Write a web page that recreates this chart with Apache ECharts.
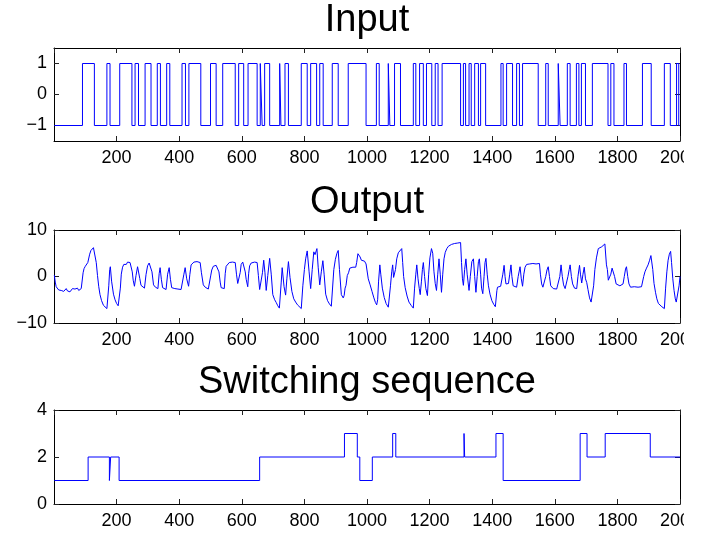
<!DOCTYPE html>
<html>
<head>
<meta charset="utf-8">
<script src="https://cdn.jsdelivr.net/npm/echarts@6/dist/echarts.min.js"></script>
<style>
  html, body { margin: 0; padding: 0; background: #fff; }
  #chart { width: 684px; height: 533px; }
</style>
</head>
<body>
<div id="chart"></div>
<script>
// Sample indices where the binary input flips sign (starts at -1)
const inputStart = -1;
const inputSwitchTimes = [
  91, 129, 169, 179, 210, 249, 259, 270, 291, 310, 330, 340, 360, 370, 409, 420,
  431, 469, 500, 518, 539, 579, 590, 606, 620, 649, 659, 665, 673, 689, 721, 725,
  738, 749, 790, 809, 820, 839, 849, 860, 889, 908, 940, 997, 1030, 1039, 1068, 1073,
  1088, 1107, 1148, 1156, 1168, 1180, 1190, 1207, 1218, 1227, 1240, 1299, 1308, 1315,
  1326, 1333, 1344, 1356, 1363, 1379, 1428, 1435, 1446, 1465, 1478, 1487, 1497, 1547,
  1571, 1579, 1611, 1617, 1640, 1649, 1669, 1677, 1685, 1698, 1720, 1770, 1779, 1789,
  1821, 1829, 1880, 1908, 1950, 1969, 1989, 1996
];

// Measured output samples [k, y]
const outputSamples = [
  [1,0.3],[4,-1.2],[7,-2.2],[11,-2.6],[15,-2.9],[19,-2.5],[23,-3.0],[27,-2.7],[31,-3.2],[35,-2.8],
  [39,-2.6],[43,-3.1],[47,-2.7],[51,-3.3],[55,-2.9],[59,-2.6],[63,-3.0],[67,-2.7],[71,-2.9],[75,-2.5],
  [79,-3.0],[83,-2.8],[87,-2.6],[90,-2.9],
  [93,0.8],[96,1.7],[100,2.2],[104,2.6],[108,3.0],[112,3.3],[114,4.8],[118,5.6],[122,6.0],[126,6.2],
  [129,6.6],[131,6.4],
  [135,3.0],[139,0.2],[143,-2.2],[147,-3.9],[152,-5.2],[158,-6.2],[163,-6.6],[169,-6.9],[172,-6.5],
  [175,-2.0],[178,1.5],[180,2.1],[184,-1.0],[190,-3.8],[195,-5.0],[200,-5.8],[205,-6.3],[209,-6.5],
  [212,-2.5],[215,0.5],[219,2.0],[223,2.6],[227,2.9],[231,2.6],[235,3.1],[239,2.7],[243,3.0],[247,2.7],
  [250,1.0],[253,-0.8],[257,-2.1],
  [262,0.2],[267,2.1],[270,2.3],[274,-0.4],[278,-1.9],[283,-2.3],[289,-2.5],
  [294,0.4],[299,2.3],[304,2.9],[309,3.1],[313,1.0],[318,-1.8],[324,-2.3],[332,-2.6],
  [336,0.6],[339,1.9],[343,-0.6],[347,-2.4],[352,-2.6],[358,-2.8],
  [363,0.5],[368,1.9],[372,-0.6],[376,-2.4],[381,-2.8],[386,-2.6],[391,-3.0],[396,-2.7],[401,-3.1],
  [406,-2.8],[411,-2.6],
  [415,0.5],[419,1.9],[424,-0.5],[430,-2.1],[434,0.4],[438,2.5],[442,2.9],[447,3.1],[452,2.8],[457,3.2],
  [462,2.9],[467,3.0],
  [471,0.8],[477,-1.8],[483,-2.3],[488,-2.6],[493,-2.7],[497,-2.5],
  [501,0.3],[504,1.4],[509,2.2],[513,2.6],[518,2.4],[523,2.7],[527,1.0],[531,-1.2],[534,-2.4],[539,-2.8],
  [544,-2.6],
  [547,0.6],[550,2.2],[555,2.6],[560,3.0],[565,2.7],[570,3.1],[575,2.8],[579,3.0],
  [583,0.5],[587,-1.5],[592,-1.9],[595,0.9],[598,2.6],[603,3.1],[608,2.8],[611,1.0],[614,-0.6],[619,-2.2],
  [622,0.7],[625,2.3],[630,2.9],[636,2.7],[641,3.1],[645,2.8],[649,3.0],[653,0.2],[657,-2.8],[662,-3.1],
  [666,0.8],[670,3.5],[674,0.8],[678,-3.0],[683,0.2],[689,3.9],[694,0.5],[699,-3.9],[705,-5.0],[710,-5.6],
  [715,-6.3],[720,-6.8],[722,-6.9],
  [726,-1.2],[729,1.9],[735,-2.2],[740,-4.0],[744,-0.5],[749,3.2],[754,-0.2],[760,-3.2],[766,-4.8],
  [772,-5.5],[778,-6.1],[784,-6.5],[790,-6.9],
  [795,-2.0],[800,1.5],[804,3.8],[809,5.5],[811,5.7],[815,1.0],[820,-2.6],[825,1.5],[830,5.3],[834,4.7],
  [840,6.0],[844,2.0],[849,-1.8],[854,1.0],[859,3.4],[863,0.5],[868,-3.8],[874,-5.2],[880,-5.9],[886,-6.4],
  [890,-6.3],
  [894,1.5],[899,3.7],[904,5.0],[908,5.6],[912,1.5],[918,-3.9],[924,-4.6],[927,-4.1],[930,-2.5],[933,-1.9],
  [937,0.2],[941,0.8],[945,1.8],[950,1.6],[955,2.0],[960,2.1],[964,2.0],[967,3.0],[971,4.9],[975,5.2],
  [978,4.2],[982,3.5],[987,3.1],[992,3.3],[997,2.7],[1000,2.4],
  [1004,-0.5],[1010,-1.8],[1016,-3.2],[1022,-4.6],[1027,-5.6],[1031,-6.1],[1034,-5.0],[1037,-1.0],
  [1041,2.5],[1044,0.5],[1049,-2.5],[1055,-4.5],[1061,-5.8],[1068,-6.6],[1071,-6.3],
  [1075,-2.0],[1079,1.0],[1082,2.5],[1085,-0.2],[1088,-0.6],[1091,1.5],[1095,3.8],[1100,5.1],[1105,5.5],
  [1111,6.0],[1114,3.0],[1117,0.0],[1122,-2.4],[1128,-4.2],[1134,-5.5],[1141,-6.2],[1148,-6.8],
  [1152,-2.5],[1156,0.5],[1159,2.5],[1163,-0.5],[1167,-2.6],[1170,-3.9],[1174,-1.0],[1177,1.5],[1180,3.0],
  [1184,0.0],[1188,-2.6],[1193,-4.1],
  [1197,0.5],[1201,4.0],[1206,6.0],[1210,5.0],[1214,1.0],[1218,-1.5],[1222,-3.0],[1226,0.5],[1230,3.8],
  [1234,0.5],[1238,-3.4],
  [1242,0.5],[1246,3.8],[1250,5.2],[1255,6.0],[1260,6.5],[1265,6.7],[1270,6.9],[1275,6.7],[1280,7.1],
  [1285,6.9],[1290,7.2],[1295,7.0],[1299,7.3],
  [1302,3.0],[1305,-0.5],[1308,-1.9],[1312,1.5],[1316,3.8],[1320,0.5],[1326,-3.0],[1330,0.0],[1335,3.2],
  [1340,3.8],[1344,0.0],[1348,-3.4],[1352,0.0],[1356,3.2],[1359,3.8],[1363,0.5],[1366,-2.5],[1370,-3.7],
  [1374,0.0],[1377,3.0],[1380,3.9],
  [1384,0.5],[1388,-2.0],[1393,-3.8],[1399,-5.2],[1405,-6.0],[1410,-6.5],[1412,-6.6],
  [1415,-3.0],[1417,-2.3],[1422,-2.5],[1427,-2.1],[1431,-2.4],[1434,0.5],[1438,2.4],[1441,0.0],[1444,-1.6],
  [1448,-1.2],[1452,-1.5],[1456,0.5],[1460,2.5],[1463,0.0],[1467,-2.0],[1472,-2.4],[1478,-2.3],[1483,0.0],
  [1489,2.1],[1493,-0.5],[1497,-2.1],
  [1501,0.5],[1505,2.0],[1510,2.6],[1515,3.0],[1520,2.7],[1525,3.1],[1530,2.8],[1535,3.0],[1540,2.7],
  [1545,3.1],[1551,2.8],
  [1554,0.5],[1558,-1.6],[1562,-2.3],[1567,-2.0],[1571,0.0],[1575,1.4],[1579,2.1],[1583,0.0],[1587,-2.0],
  [1590,-2.3],[1595,-2.6],[1600,-2.4],[1606,-2.7],[1612,-2.3],[1616,0.0],[1620,2.5],[1624,0.0],[1628,-1.8],
  [1633,-2.6],[1638,-2.4],[1642,0.0],[1646,1.5],[1649,2.5],[1653,0.0],[1657,-1.6],[1663,-2.5],[1670,-2.6],
  [1674,0.0],[1679,2.4],[1682,0.5],[1686,-1.4],[1690,0.5],[1694,2.0],[1698,-0.5],[1702,-1.3],[1706,-2.8],
  [1711,-4.6],[1716,-5.5],[1720,-5.9],
  [1724,-2.0],[1728,1.5],[1733,4.0],[1739,6.0],[1744,6.2],[1750,6.4],[1755,6.8],[1760,7.0],[1763,6.6],
  [1765,2.5],[1768,1.5],[1771,-0.8],[1775,-1.2],[1779,0.5],[1783,1.8],[1787,2.1],[1791,0.0],[1796,-1.6],
  [1802,-1.9],[1808,-2.0],[1813,-2.1],[1818,-1.6],[1822,0.0],[1826,1.6],[1829,2.1],[1833,0.0],[1837,-1.6],
  [1842,-2.3],[1848,-2.4],[1854,-2.2],[1860,-2.6],[1866,-2.3],[1872,-2.5],[1877,-2.2],[1880,-2.4],
  [1884,0.0],[1888,1.0],[1893,1.8],[1898,2.5],[1903,3.5],[1907,4.5],[1910,4.8],[1913,1.5],[1917,-1.5],
  [1922,-3.5],[1926,-4.8],[1931,-5.8],[1936,-6.2],[1942,-6.5],[1947,-6.8],[1950,-6.9],
  [1954,-2.5],[1958,1.0],[1962,3.5],[1966,4.8],[1970,5.4],[1973,3.0],[1977,-0.5],[1981,-3.0],[1985,-4.8],
  [1988,-5.5],[1994,-5.7],[1997,-2.0],[2000,0.0]
];

// Active mode: value holds from each index until the next one
const switchTimes = [1, 109, 177, 181, 208, 657, 928, 969, 977, 1017, 1082, 1092, 1310, 1312, 1412, 1435, 1681, 1703, 1761, 1905, 2000];
const switchModes = [1, 2, 1, 2, 1, 2, 3, 2, 1, 2, 3, 2, 3, 2, 3, 1, 3, 2, 3, 2, 2];

const titles = ['Input', 'Output', 'Switching sequence'];
const inputTicks = [-1, 0, 1];

// Build step data for the input signal
const inputData = [[1, inputStart]];
let level = inputStart;
for (const t of inputSwitchTimes) {
  level = -level;
  inputData.push([t, level]);
}
inputData.push([2000, level]);

const switchData = switchTimes.map((t, i) => [t, switchModes[i]]);

const FONT = '"Liberation Sans", Arial, Helvetica, sans-serif';
const minusFmt = v => (v < 0 ? '\u2212' + Math.abs(v) : String(v));
const plainFmt = v => String(v);

const grids = [
  { left: 54, top: 48, width: 626, height: 93 },
  { left: 54, top: 230, width: 626, height: 93 },
  { left: 54, top: 410, width: 626, height: 94 }
];

function xAxisPair(gi) {
  const common = {
    type: 'value', gridIndex: gi, min: 0, max: 2000, interval: 200,
    axisLine: { show: true, onZero: false, lineStyle: { color: '#000', width: 1 } },
    axisTick: { show: true, inside: true, length: 5, lineStyle: { color: '#222' } },
    splitLine: { show: false }
  };
  return [
    Object.assign({}, common, {
      position: 'bottom',
      axisLabel: { show: true, showMinLabel: false, showMaxLabel: true, color: '#000', fontSize: 18,
        fontFamily: FONT, margin: 8, formatter: plainFmt }
    }),
    Object.assign({}, common, { position: 'top', axisLabel: { show: false } })
  ];
}

function yAxisPair(gi, min, max, interval, custom) {
  const tick = { show: true, inside: true, length: 5, lineStyle: { color: '#222' } };
  const label = { show: true, color: '#000', fontSize: 18, fontFamily: FONT, margin: 7, formatter: minusFmt };
  const base = { type: 'value', gridIndex: gi, min: min, max: max,
    axisLine: { show: true, onZero: false, lineStyle: { color: '#000', width: 1 } },
    splitLine: { show: false } };
  if (interval) base.interval = interval;
  if (custom) { tick.customValues = custom; label.customValues = custom; }
  return [
    Object.assign({}, base, { position: 'left', axisTick: tick, axisLabel: label }),
    Object.assign({}, base, { position: 'right', axisTick: Object.assign({}, tick), axisLabel: { show: false } })
  ];
}

const xAxes = [].concat(xAxisPair(0), xAxisPair(1), xAxisPair(2));
const yAxes = [].concat(
  yAxisPair(0, -1.5, 1.5, null, inputTicks),
  yAxisPair(1, -10, 10, 10, null),
  yAxisPair(2, 0, 4, 2, null)
);

const lineBase = { type: 'line', showSymbol: false, symbol: 'none', animation: false,
  lineStyle: { color: '#0000ff', width: 1 }, itemStyle: { color: '#0000ff' } };

const chart = echarts.init(document.getElementById('chart'), null, { renderer: 'canvas' });
chart.setOption({
  backgroundColor: '#fff',
  animation: false,
  grid: grids.map(g => Object.assign({ containLabel: false, outerBoundsMode: 'none' }, g)),
  xAxis: xAxes,
  yAxis: yAxes,
  graphic: titles.map((t, i) => ({
    type: 'text', x: 367, y: [21, 203, 383][i], silent: true,
    style: { text: t, fill: '#000', fontSize: 38, fontFamily: FONT, textAlign: 'center', textVerticalAlign: 'middle' }
  })),
  series: [
    Object.assign({}, lineBase, { xAxisIndex: 0, yAxisIndex: 0, step: 'end', data: inputData }),
    Object.assign({}, lineBase, { xAxisIndex: 2, yAxisIndex: 2, data: outputSamples }),
    Object.assign({}, lineBase, { xAxisIndex: 4, yAxisIndex: 4, step: 'end', data: switchData })
  ]
});
</script>
</body>
</html>
